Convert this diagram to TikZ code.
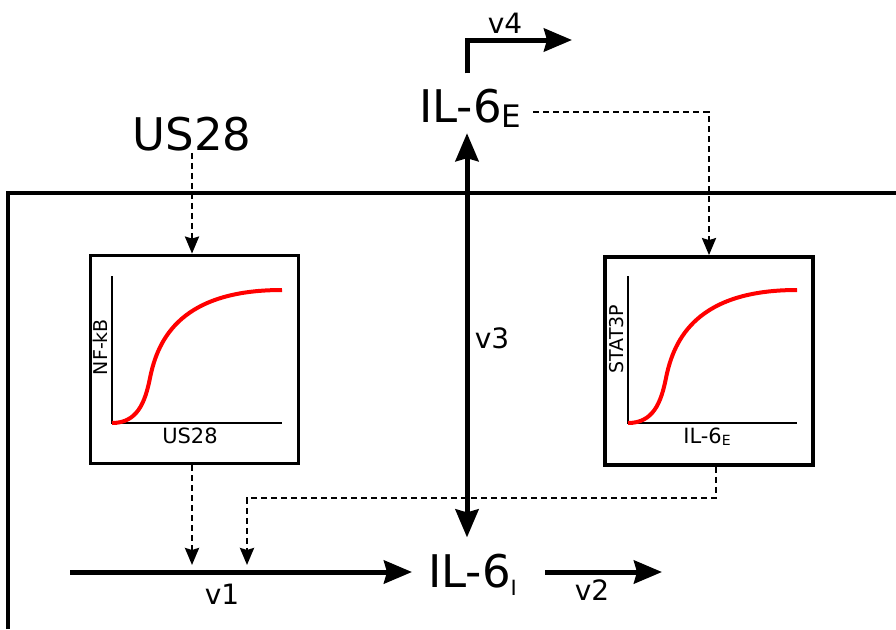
\documentclass[tikz,border=0pt]{standalone}
\usepackage{fontspec}
\setmainfont{DejaVu Sans}
\usetikzlibrary{arrows.meta}

\begin{document}
\begin{tikzpicture}[x=1pt,y=-1pt,
  flux/.style={line width=5pt,-{Stealth[length=28pt,width=23pt,inset=3pt]}},
  effect/.style={line width=2.6pt,dash pattern=on 6pt off 4pt,-{Stealth[length=17pt,width=14pt,inset=2pt]}},
  species/.style={inner sep=2pt,font=\fontsize{45}{54}\selectfont},
  rate/.style={inner sep=0pt,font=\fontsize{28}{34}\selectfont},
  plotbox/.style={draw,line width=3.8pt,minimum width=208pt,minimum height=208pt,inner sep=0pt},
  axislabel/.style={inner sep=0pt,font=\fontsize{21}{25}\selectfont},
  response/.style={red,line width=4pt}]
\useasboundingbox (0,0) rectangle (896,629);
\draw[line width=3.5pt] (8,629) |- (896,193);
\node[species,anchor=base] (us28) at (192,150) {US28};
\node[species,anchor=base west] (ile) at (417,122) {IL-6\raisebox{-5pt}{\fontsize{31}{31}\selectfont E}};
\node[species,anchor=base west] (ili) at (426,587) {IL-6\raisebox{-8pt}{\fontsize{21}{21}\selectfont I}};
\node[plotbox] (nfkb) at (194.5,359.5) {};
\node[plotbox] (stat) at (709,361) {};
\draw[line width=2.2pt] (112,276) |- (282,423);
\draw[response] (112,423) .. controls (137,423) and (145,403) .. (150,378) .. controls (158,338) and (182,290) .. (282,290);
\node[axislabel,rotate=90,font=\fontsize{19}{23}\selectfont] (nfkblab) at (100,347) {NF-kB};
\node[axislabel] (us28lab) at (190,436) {US28};
\draw[line width=2.2pt] (628,276) |- (797,423);
\draw[response] (628,423) .. controls (653,423) and (661,403) .. (666,378) .. controls (674,338) and (698,290) .. (797,290);
\node[axislabel,rotate=90,font=\fontsize{19}{23}\selectfont] (statlab) at (617,339) {STAT3P};
\node[axislabel] (ilelab) at (707,437) {IL-6\raisebox{-2pt}{\fontsize{14}{14}\selectfont E}};
\coordinate (axis) at (467,0);
\coordinate (v1s) at (70,572);
\coordinate (v2e) at (662,572);
\coordinate (v4e) at (572,40);
\coordinate (jn) at (247,498);
\draw[effect] (us28) -- (us28 |- nfkb.north);
\draw[effect,shorten <=10pt] ([yshift=-4pt]ile.east) -| (stat.north);
\draw[effect,shorten >=7pt] (us28 |- nfkb.south) -- (us28 |- v1s);
\draw[effect,shorten >=7pt] ([xshift=7pt]stat.south) |- (jn) -- (jn |- v1s);
\draw[flux,shorten >=14pt] (v1s) -- (ili.west |- v1s);
\draw[flux,shorten <=26pt] (ili.east |- v2e) -- (v2e);
\draw[flux,{Stealth[length=28pt,width=23pt,inset=3pt]}-{Stealth[length=28pt,width=23pt,inset=3pt]},shorten <=4pt,shorten >=14pt] (ile.south -| axis) -- (ili.north -| axis);
\draw[flux,shorten <=13pt] (ile.north -| axis) |- (v4e);
\node[rate] (v1) at (222,594) {v1};
\node[rate] (v2) at (592,590) {v2};
\node[rate] (v3) at (492,338) {v3};
\node[rate] (v4) at (505,23) {v4};
\end{tikzpicture}
\end{document}
